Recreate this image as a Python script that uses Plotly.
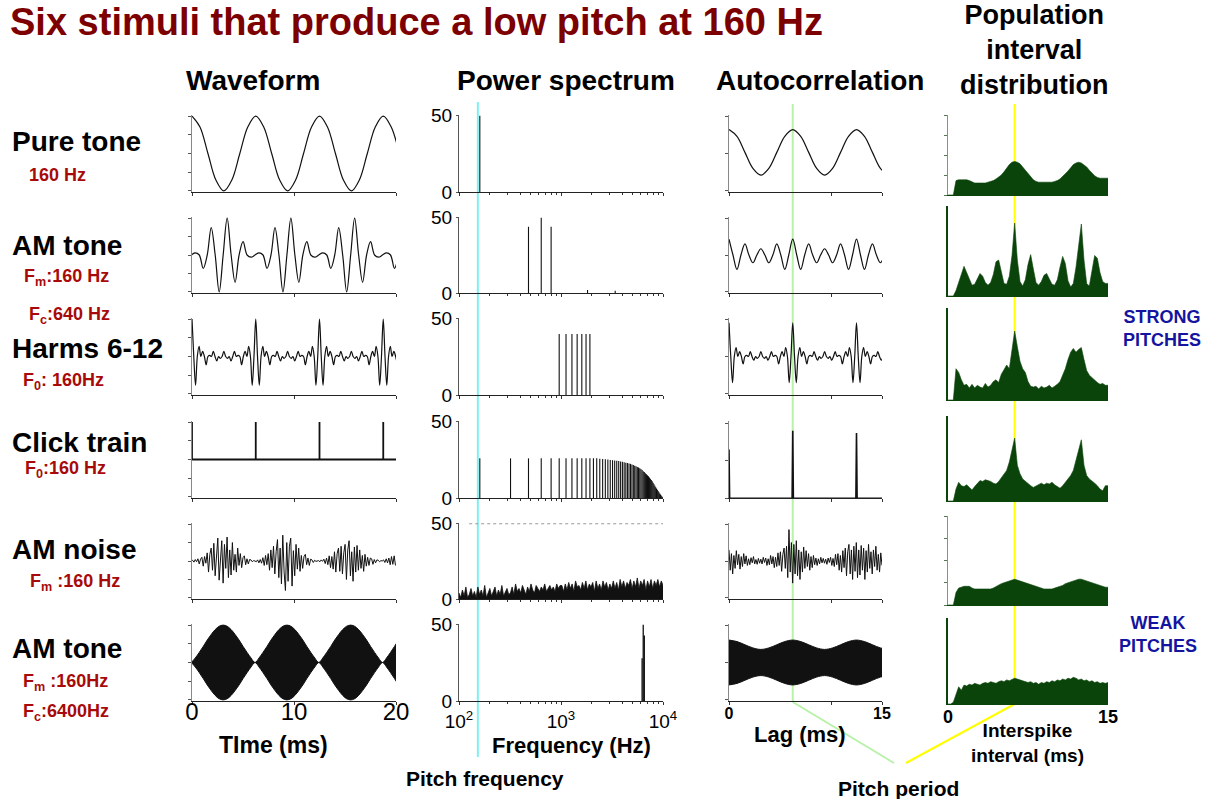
import math
import numpy as np
import plotly.graph_objects as go

# ======================= DATA =======================
# ---- Waveform column: normalised amplitude, sampled every *_dt ms starting at *_t0 ms
pure_t0, pure_dt = 0.0, 0.78125
pure_wave = [1, .71, 0, -.71, -1, -.71, 0, .71, 1, .71, 0, -.71, -1, -.71, 0, .71,
             1, .71, 0, -.71, -1, -.71, 0, .71, 1, .71, 0]

amtone_t0, amtone_dt = -0.07, 0.390625
amtone_wave = [0, .06, 0, -.36, 0, .74, 0, -1, 0, 1, 0, -.74, 0, .36, 0, -.06,
               0, .06, 0, -.36, 0, .74, 0, -1, 0, 1, 0, -.74, 0, .36, 0, -.06,
               0, .06, 0, -.36, 0, .74, 0, -1, 0, 1, 0, -.74, 0, .36, 0, -.06,
               0, .06, 0, -.36, 0]

harms_t0, harms_dt = 0.0, 0.1736
harms_wave = [1, 0, -.77, 0, .27, 0, .14, 0, -.22, 0, .03, 0, .14, 0, -.12, 0, -.05, 0,
              .14, 0, -.05, 0, -.12, 0, .14, 0, .03, 0, -.22, 0, .14, 0, .27, 0, -.77, 0,
              1, 0, -.77, 0, .27, 0, .14, 0, -.22, 0, .03, 0, .14, 0, -.12, 0, -.05, 0,
              .14, 0, -.05, 0, -.12, 0, .14, 0, .03, 0, -.22, 0, .14, 0, .27, 0, -.77, 0,
              1, 0, -.77, 0, .27, 0, .14, 0, -.22, 0, .03, 0, .14, 0, -.12, 0, -.05, 0,
              .14, 0, -.05, 0, -.12, 0, .14, 0, .03, 0, -.22, 0, .14, 0, .27, 0, -.77, 0,
              1, 0, -.77, 0, .27, 0, .14, 0, -.22]

click_times = [0, 6.25, 12.5, 18.75]      # ms
click_height = 1.0

noise_t0, noise_dt = -0.07, 0.13           # values in percent
noise_wave = [0, 2, -3, 4, -2, 6, -8, 5, 10, -14, 12, -6, 22, -30, 18, 35, -25, 48,
              -40, 30, 62, -52, 20, 55, -60, 45, -20, 65, -45, 30, -38, 50, -25, 18, -30, 35,
              -12, 20, -18, 9, 14, -10, 6, -8, 4, 3, -2, 1,
              0, -2, 3, -5, 4, -6, 9, -12, 15, -10, 20, -25, 30, -18, 40, -35, 25, 58,
              -45, 35, -62, 70, -30, -80, 50, -55, 40, 62, -68, 28, -40, 45, -22, 35, -28, 15,
              -20, 12, 18, -10, 8, -12, 5, 3, -4, 2, -1, 0,
              1, -2, 3, -1, 5, -7, 8, -10, 14, -18, 12, -22, 25, -30, 20, 35, -28, 40,
              -35, 22, 45, -50, 30, 55, -40, 25, -55, 38, -30, 42, -25, 30, -20, 15, -28, 18,
              -14, 10, -12, 8, 6, -9, 4, -5, 3, 2, -2, 1,
              0, 3, -4, 6, -5, 8, -10, 12, -9, 14, -12]

am6400_t0, am6400_dt = -0.07, 0.390625   # envelope of the 6400 Hz carrier
am6400_env = [0, .12, .27, .43, .6, .75, .88, .97, 1, .97, .88, .75, .6, .43, .27, .12,
              0, .12, .27, .43, .6, .75, .88, .97, 1, .97, .88, .75, .6, .43, .27, .12,
              0, .12, .27, .43, .6, .75, .88, .97, 1, .97, .88, .75, .6, .43, .27, .12,
              0, .12, .27, .43, .6]

# ---- Power spectrum column (Hz, level 0..50)
pure_freq, pure_amp = [160], [50]
amtone_freq, amtone_amp = [480, 640, 800, 1820, 3400], [44, 50, 44, 2, 1.5]
harms_freq = [960, 1120, 1280, 1440, 1600, 1760, 1920]
harms_amp = [40, 40, 40, 40, 40, 40, 40]
click_freq = [160, 320, 480, 640, 800, 960, 1120, 1280, 1440, 1600,
              1760, 1920, 2080, 2240, 2400, 2560, 2720, 2880, 3040, 3200,
              3360, 3520, 3680, 3840, 4000, 4160, 4320, 4480, 4640, 4800,
              4960, 5120, 5280, 5440, 5600, 5760, 5920, 6080, 6240, 6400,
              6560, 6720, 6880, 7040, 7200, 7360, 7520, 7680, 7840, 8000,
              8160, 8320, 8480, 8640, 8800, 8960, 9120, 9280, 9440, 9600,
              9760, 9920]
click_amp = [26, 26, 26, 26, 26, 26, 26, 26, 26, 26, 26, 26,
             26, 26, 25.8, 25.6, 25.4, 25.2, 25, 24.8,
             24.6, 24.4, 24.2, 24, 23.8, 23.5, 23.2, 23, 22.7, 22.4,
             22, 21.6, 21.2, 20.8, 20.4, 20, 19.5, 19, 18.3, 17.6,
             17, 16.3, 15.6, 15, 14.2, 13.4, 12.6, 11.8, 11, 10,
             9, 8, 7, 6.2, 5.4, 4.6, 3.8, 3, 2.3, 1.6, 1, 0.5]
noise_spec = [4, 1, 6, 2, 8, 1, 3, 7, 2, 5, 1, 8, 3, 6, 2, 9, 1, 4, 7, 2, 5, 8, 2, 6, 3, 9, 2, 5, 7, 3,
              4, 8, 3, 10, 5, 7, 4, 9, 6, 3, 8, 5, 10, 6, 4, 9, 7, 5, 8, 6, 10, 5, 7, 9, 6, 8, 5, 10, 7, 9,
              9, 5, 10, 6, 11, 7, 10, 5, 12, 8, 9, 6, 11, 7, 12, 6, 10, 8, 11, 5, 12, 7, 10, 6, 12, 8, 11, 6, 10, 7,
              12, 7, 11, 6, 13, 8, 12, 7, 11, 9, 13, 7, 12, 8, 14, 7, 12, 9, 13, 6, 12, 8, 13, 7, 12, 9, 13, 8, 12, 9]
noise_spec_freq = np.geomspace(100, 10000, len(noise_spec))   # log-spaced analysis bins
am6400_freq, am6400_amp = [6240, 6400, 6560], [28, 50, 43]

# ---- Autocorrelation column (normalised), sampled every *_dl ms from lag 0
pure_ac_dl = 0.78125
pure_ac = [.64, .46, .03, -.40, -.58, -.40, .03, .46, .64, .46, .03, -.40, -.58, -.40, .03, .46,
           .64, .46, .03, -.40, -.58]
amtone_ac_dl = 0.390625
amtone_ac = [.43, 0, -.39, 0, .30, 0, -.21, 0, .17, 0, -.21, 0, .30, 0, -.39, 0,
             .43, 0, -.39, 0, .30, 0, -.21, 0, .17, 0, -.21, 0, .30, 0, -.39, 0,
             .43, 0, -.39, 0, .30, 0, -.21, 0]
harms_ac_dl = 0.1736
harms_ac = [.9, 0, -.7, 0, .24, 0, .13, 0, -.2, 0, .03, 0, .13, 0, -.1, 0, -.05, 0,
            .13, 0, -.05, 0, -.1, 0, .13, 0, .03, 0, -.2, 0, .13, 0, .24, 0, -.7, 0,
            .9, 0, -.7, 0, .24, 0, .13, 0, -.2, 0, .03, 0, .13, 0, -.1, 0, -.05, 0,
            .13, 0, -.05, 0, -.1, 0, .13, 0, .03, 0, -.2, 0, .13, 0, .24, 0, -.7, 0,
            .9, 0, -.7, 0, .24, 0, .13, 0, -.2, 0, .03, 0, .13, 0, -.1, 0]
click_ac_lag = [0, 6.25, 12.5]
click_ac_peak = [.65, .9, .87]
noise_ac_dl = 0.12                          # values in percent
noise_ac = [30, -25, 20, -35, 15, -20, 28, -10, 18, -22, 12, -15, 20,
            -8, 14, -12, 6, -10, 9, -5, 12, -8, 4, -9, 7, -6,
            5, -8, 10, -4, 8, -12, 6, -10, 15, -8, 12, -18, 10,
            -15, 22, -12, 25, -28, 18, 35, -20, 40, -45, 85, -30, 50,
            -60, 45, -35, 55, -40, 30, -50, 25, -30, 38, -20, 28, -15,
            20, -25, 12, -18, 15, -10, 8, -12, 6, -8, 10, -5, 7,
            -6, 5, -9, 8, -4, 10, -12, 7, -15, 18, -10, 20, -25,
            15, -30, 28, -18, 35, -40, 25, 45, -35, 30, -50, 40, -28,
            50, -45, 30, -38, 42, -25, 35, -50, 28, -30, 45, -20, 25,
            -35, 30, -15, 40, -25, 18, -30, 22, -12]
am6400_ac_dl = 0.78125
am6400_ac_env = [.60, .56, .475, .39, .35, .39, .475, .56, .60, .56, .475, .39, .35, .39, .475, .56,
                 .60, .56, .475, .39, .35]

# ---- Population interval distribution (percent of axis), bins every 0.25 ms from 0
pop_dl = 0.25
pop_pure = [0, 0, 0, 18, 19, 19, 19, 19, 18, 16, 15, 15, 15, 15, 15, 16, 17, 18, 20, 22,
            25, 29, 34, 38, 41, 42, 41, 39, 35, 31, 27, 23, 19, 17, 16, 16, 16, 16, 16, 16,
            17, 18, 20, 23, 26, 30, 34, 38, 40, 41, 40, 38, 35, 31, 27, 24, 22, 21, 21, 21, 21]
pop_amtone = [0, 0, 0, 6, 14, 24, 33, 26, 17, 12, 13, 19, 25, 22, 15, 12, 15, 24, 38, 40,
              25, 14, 13, 22, 45, 81, 40, 16, 11, 18, 35, 46, 30, 15, 12, 16, 23, 25, 19, 13,
              12, 18, 32, 44, 36, 17, 10, 14, 32, 60, 80, 40, 14, 11, 26, 45, 42, 26, 16, 14, 14]
pop_harms = [0, 0, 0, 34, 30, 22, 16, 17, 13, 17, 13, 16, 14, 13, 18, 14, 16, 20, 22, 19,
             28, 33, 38, 34, 55, 75, 58, 42, 34, 30, 20, 15, 14, 15, 12, 15, 13, 14, 16, 13,
             15, 17, 20, 27, 34, 44, 52, 56, 52, 55, 57, 44, 32, 27, 24, 21, 19, 17, 18, 16, 16]
pop_click = [0, 0, 0, 14, 22, 18, 17, 19, 16, 13, 17, 21, 24, 23, 25, 24, 23, 21, 20, 23,
             27, 31, 36, 46, 62, 74, 42, 32, 26, 23, 21, 18, 16, 18, 19, 21, 19, 21, 20, 22,
             19, 17, 15, 18, 22, 26, 30, 36, 48, 62, 72, 42, 30, 26, 24, 21, 18, 14, 12, 18, 18]
pop_noise = [0, 0, 0, 14, 19, 20, 21, 21, 21, 19, 18, 18, 18, 18, 18, 18, 18, 19, 21, 23,
             24, 25, 26, 27, 28, 29, 28, 27, 26, 25, 24, 23, 22, 21, 20, 19, 18, 18, 18, 18,
             19, 20, 21, 22, 24, 25, 26, 27, 28, 29, 29, 28, 27, 26, 25, 24, 23, 22, 21, 20, 20]
pop_am6400 = [0, 0, 2, 12, 20, 16, 22, 21, 23, 22, 24, 23, 22, 24, 25, 24, 26, 25, 24, 26,
              27, 26, 28, 27, 29, 30, 29, 28, 27, 26, 25, 26, 24, 25, 23, 25, 24, 26, 25, 27,
              26, 28, 27, 29, 28, 30, 29, 31, 30, 28, 29, 27, 28, 26, 27, 25, 26, 24, 25, 24, 25]

pitch_freq_marker = 153        # Hz (pitch frequency line, drawn just left of the 160 Hz line)
pitch_period = 6.25            # ms

# ======================= LAYOUT HELPERS =======================
W, H = 1211, 799
FONT = "Liberation Sans, Arial, sans-serif"
BLACK = "#111111"
GREEN = "#0a440a"
RED_T = "#7d0000"
RED_L = "#a80a0a"
BLUE = "#1414a0"


def px(x):
    return x / W


def py(y):
    return 1 - y / H


col_x = [(192, 396), (459, 663), (729, 882), (948, 1108)]
row_y = [(115, 192), (217, 293), (318, 395), (421, 498), (523, 599), (624, 701)]
pop_row_y = [(115, 195), (206, 296), (308, 400), (416, 501), (516, 605), (618, 704)]
FREQ_LOG_RANGE = (2, 4)
LAG_RANGE = (0, 15)


def idx(r, c):
    return r * 4 + c + 1


def xn(i):
    return "x" if i == 1 else f"x{i}"


def yn(i):
    return "y" if i == 1 else f"y{i}"


fig = go.Figure()


def add(trace, r, c):
    i = idx(r, c)
    trace.update(xaxis=xn(i), yaxis=yn(i), showlegend=False, hoverinfo="skip")
    fig.add_trace(trace)


def spikes(freqs, amps):
    xs, ys = [], []
    for f, a in zip(freqs, amps):
        xs += [f, f, None]
        ys += [0, a, None]
    return xs, ys


spl_k = dict(color=BLACK, width=1.2, shape="spline")

# ---------------- Waveform ----------------
add(go.Scatter(x0=pure_t0, dx=pure_dt, y=pure_wave, mode="lines", line=spl_k), 0, 0)
add(go.Scatter(x0=amtone_t0, dx=amtone_dt, y=amtone_wave, mode="lines", line=spl_k), 1, 0)
add(go.Scatter(x0=harms_t0, dx=harms_dt, y=harms_wave, mode="lines", line=spl_k), 2, 0)
cx, cy = [0], [0]
for t in click_times:
    cx += [t, t, t]
    cy += [0, click_height, 0]
cx.append(20)
cy.append(0)
add(go.Scatter(x=cx, y=cy, mode="lines", line=dict(color=BLACK, width=1.8)), 3, 0)
add(go.Scatter(x0=noise_t0, dx=noise_dt, y=np.array(noise_wave) / 100.0, mode="lines",
               line=dict(color=BLACK, width=1)), 4, 0)
add(go.Scatter(x0=am6400_t0, dx=am6400_dt, y=-np.array(am6400_env), mode="lines",
               line=dict(color=BLACK, width=1, shape="spline")), 5, 0)
add(go.Scatter(x0=am6400_t0, dx=am6400_dt, y=am6400_env, mode="lines", fill="tonexty",
               fillcolor=BLACK, line=dict(color=BLACK, width=1, shape="spline")), 5, 0)

# ---------------- Power spectrum ----------------
for r, (fr, am) in enumerate([(pure_freq, pure_amp), (amtone_freq, amtone_amp),
                              (harms_freq, harms_amp), (click_freq, click_amp)]):
    sx, sy = spikes(fr, am)
    add(go.Scatter(x=sx, y=sy, mode="lines", line=dict(color=BLACK, width=1.1)), r, 1)
add(go.Scatter(x=noise_spec_freq, y=noise_spec, mode="lines", fill="tozeroy", fillcolor=BLACK,
               line=dict(color=BLACK, width=0.8)), 4, 1)
sx, sy = spikes(am6400_freq, am6400_amp)
add(go.Scatter(x=sx, y=sy, mode="lines", line=dict(color=BLACK, width=1.3)), 5, 1)

# ---------------- Autocorrelation ----------------
add(go.Scatter(x0=0, dx=pure_ac_dl, y=pure_ac, mode="lines", line=spl_k), 0, 2)
add(go.Scatter(x0=0, dx=amtone_ac_dl, y=amtone_ac, mode="lines", line=spl_k), 1, 2)
add(go.Scatter(x0=0, dx=harms_ac_dl, y=harms_ac, mode="lines", line=spl_k), 2, 2)
ax_, ay_ = [], []
for lag, pk in zip(click_ac_lag, click_ac_peak):
    ax_ += [lag - 0.06, lag, lag + 0.06, None]
    ay_ += [0, pk, 0, None]
add(go.Scatter(x=list(LAG_RANGE), y=[0, 0], mode="lines", line=dict(color=BLACK, width=1)), 3, 2)
add(go.Scatter(x=ax_, y=ay_, mode="lines", line=dict(color=BLACK, width=1.6)), 3, 2)
add(go.Scatter(x0=0, dx=noise_ac_dl, y=np.array(noise_ac) / 100.0, mode="lines",
               line=dict(color=BLACK, width=1)), 4, 2)
add(go.Scatter(x0=0, dx=am6400_ac_dl, y=-np.array(am6400_ac_env), mode="lines",
               line=dict(color=BLACK, width=1, shape="spline")), 5, 2)
add(go.Scatter(x0=0, dx=am6400_ac_dl, y=am6400_ac_env, mode="lines", fill="tonexty",
               fillcolor=BLACK, line=dict(color=BLACK, width=1, shape="spline")), 5, 2)

# ---------------- Population interval distribution ----------------
for r, vals in enumerate([pop_pure, pop_amtone, pop_harms, pop_click, pop_noise, pop_am6400]):
    add(go.Scatter(x0=0, dx=pop_dl, y=vals, mode="lines", fill="tozeroy", fillcolor=GREEN,
                   line=dict(color=GREEN, width=0.6)), r, 3)

# ---------------- Axes ----------------
layout_axes = {}
for r in range(6):
    for c in range(4):
        i = idx(r, c)
        x0, x1 = col_x[c]
        y0, y1 = (pop_row_y if c == 3 else row_y)[r]
        bottom = (r == 5)
        xa = dict(domain=[px(x0), px(x1)], anchor=yn(i), showgrid=False, zeroline=False,
                  automargin=False, showline=True, linecolor="#222", linewidth=1,
                  ticks="outside", ticklen=3, tickcolor="#333", showticklabels=bottom,
                  fixedrange=True, tickfont=dict(family=FONT, size=24, color="black"))
        ya = dict(domain=[py(y1), py(y0)], anchor=xn(i), showgrid=False, zeroline=False,
                  automargin=False, showline=True, linecolor="#888", linewidth=1,
                  ticks="outside", ticklen=3, tickcolor="#555", showticklabels=False,
                  fixedrange=True)
        if c == 0:
            xa.update(range=[0, 20], tickvals=[0, 10, 20], ticklabelstandoff=-14)
            ya.update(range=[-1.03, 1.03], tickvals=[-1, -.5, 0, .5, 1])
        elif c == 1:
            xa.update(type="log", range=list(FREQ_LOG_RANGE), tickvals=[100, 1000, 10000],
                      ticktext=["10<sup>2</sup>", "10<sup>3</sup>", "10<sup>4</sup>"],
                      tickfont=dict(family=FONT, size=19, color="black"),
                      minor=dict(tickvals=[200, 300, 400, 500, 600, 700, 800, 900,
                                           2000, 3000, 4000, 5000, 6000, 7000, 8000, 9000],
                                 ticks="outside", ticklen=2, tickcolor="#333"))
            ya.update(range=[0, 50.5], tickvals=[0, 50], ticktext=["0", "50"], showticklabels=True,
                      tickfont=dict(family=FONT, size=19, color="black"), linecolor="#555", ticklen=2)
        elif c == 2:
            xa.update(range=list(LAG_RANGE), tickvals=[0, 10, 15],
                      ticktext=["<b>0</b>", " ", "<b>15</b>"], ticklabelstandoff=-5,
                      tickfont=dict(family=FONT, size=16, color="black"))
            if r == 3:
                ya.update(range=[0, 1.03], tickvals=[0, .5, 1])
            else:
                ya.update(range=[-1.03, 1.03], tickvals=[-1, 0, 1])
        else:
            xa.update(range=list(LAG_RANGE), tickvals=[0, 15], ticktext=["<b>0</b>", "<b>15</b>"],
                      ticks="", linecolor=GREEN, ticklabelstandoff=-4,
                      tickfont=dict(family=FONT, size=18, color="black"))
            if r in (0, 4):
                ya.update(range=[0, 100], tickvals=[0, 25, 50, 75, 100], linecolor="#7a9a7a",
                          tickcolor="#557755")
            else:
                ya.update(range=[0, 100], ticks="", linecolor=GREEN, linewidth=2)
        layout_axes["xaxis" if i == 1 else f"xaxis{i}"] = xa
        layout_axes["yaxis" if i == 1 else f"yaxis{i}"] = ya
fig.update_layout(**layout_axes)

# ---------------- Pitch marker lines (positions follow the axes' own scales) ----------------
sp_dom = (px(col_x[1][0]), px(col_x[1][1]))
ac_dom = (px(col_x[2][0]), px(col_x[2][1]))
pop_dom = (px(col_x[3][0]), px(col_x[3][1]))
cyan_x = sp_dom[0] + (math.log10(pitch_freq_marker) - FREQ_LOG_RANGE[0]) / \
    (FREQ_LOG_RANGE[1] - FREQ_LOG_RANGE[0]) * (sp_dom[1] - sp_dom[0])
green_x = ac_dom[0] + pitch_period / LAG_RANGE[1] * (ac_dom[1] - ac_dom[0])
yellow_x = pop_dom[0] + pitch_period / LAG_RANGE[1] * (pop_dom[1] - pop_dom[0])
CYAN, LGREEN, YELLOW = "#7ff0f0", "#b8f2a8", "#ffff00"
shapes = [
    dict(type="line", xref="paper", yref="paper", x0=cyan_x, x1=cyan_x, y0=py(102), y1=py(757),
         line=dict(color=CYAN, width=2), layer="below"),
    dict(type="line", xref="paper", yref="paper", x0=green_x, x1=green_x, y0=py(104), y1=py(702),
         line=dict(color=LGREEN, width=2), layer="below"),
    dict(type="line", xref="paper", yref="paper", x0=green_x, y0=py(702), x1=px(894), y1=py(763),
         line=dict(color=LGREEN, width=2), layer="below"),
    dict(type="line", xref="paper", yref="paper", x0=yellow_x, x1=yellow_x, y0=py(104), y1=py(704),
         line=dict(color=YELLOW, width=2), layer="below"),
    dict(type="line", xref="paper", yref="paper", x0=yellow_x, y0=py(704), x1=px(906), y1=py(763),
         line=dict(color=YELLOW, width=2), layer="below"),
    dict(type="line", xref="x18 domain", yref="y18", x0=0.05, x1=1, y0=50, y1=50,
         line=dict(color="#999999", width=1, dash="dot")),
]

# ---------------- Text ----------------
ann = []


def txt(text, x, y, size, color="black", xanchor="center", bold=True):
    ann.append(dict(text=f"<b>{text}</b>" if bold else text, x=px(x), y=py(y), xref="paper",
                    yref="paper", xanchor=xanchor, yanchor="middle", showarrow=False,
                    font=dict(family=FONT, size=size, color=color)))


txt("Six stimuli that produce a low pitch at 160 Hz", 8, 22, 38, RED_T, "left")
txt("Waveform", 253, 80, 28)
txt("Power spectrum", 566, 80, 28)
txt("Autocorrelation", 820, 80, 28)
txt("Population<br>interval<br>distribution", 1034, 50, 27)

left_labels = [
    ("Pure tone", 10, 141, 28, "black"),
    ("160 Hz", 27, 175, 18, RED_L),
    ("AM tone", 10, 245, 28, "black"),
    ("F<sub>m</sub>:160 Hz", 22, 277, 18, RED_L),
    ("F<sub>c</sub>:640 Hz", 27, 316, 18, RED_L),
    ("Harms 6-12", 10, 349, 28, "black"),
    ("F<sub>0</sub>: 160Hz", 21, 382, 18, RED_L),
    ("Click train", 10, 443, 28, "black"),
    ("F<sub>0</sub>:160 Hz", 23, 469, 18, RED_L),
    ("AM noise", 10, 549, 28, "black"),
    ("F<sub>m</sub> :160 Hz", 28, 582, 18, RED_L),
    ("AM tone", 10, 648, 28, "black"),
    ("F<sub>m</sub> :160Hz", 21, 682, 18, RED_L),
    ("F<sub>c</sub>:6400Hz", 21, 712, 18, RED_L),
]
for t, x, y, s, col in left_labels:
    txt(t, x, y, s, col, "left")

txt("STRONG<br>PITCHES", 1162, 328, 18, BLUE)
txt("WEAK<br>PITCHES", 1158, 634, 18, BLUE)

txt("TIme (ms)", 273, 745, 23)
txt("Frequency (Hz)", 571, 745, 22)
txt("Lag (ms)", 800, 734, 22)
txt("Interspike<br>interval (ms)", 1027, 743, 19)
txt("Pitch frequency", 485, 778, 21)
txt("Pitch period", 898, 788, 21)

fig.update_layout(width=W, height=H,
                  margin=dict(l=0, r=0, t=0, b=0, pad=0, autoexpand=False),
                  paper_bgcolor="white", plot_bgcolor="rgba(0,0,0,0)", showlegend=False,
                  shapes=shapes, annotations=ann, font=dict(family=FONT))
fig.write_html("out.html", config={"displayModeBar": False, "staticPlot": True},
               post_script="document.body.style.margin='0px';"
                           "document.body.style.overflow='hidden';")
